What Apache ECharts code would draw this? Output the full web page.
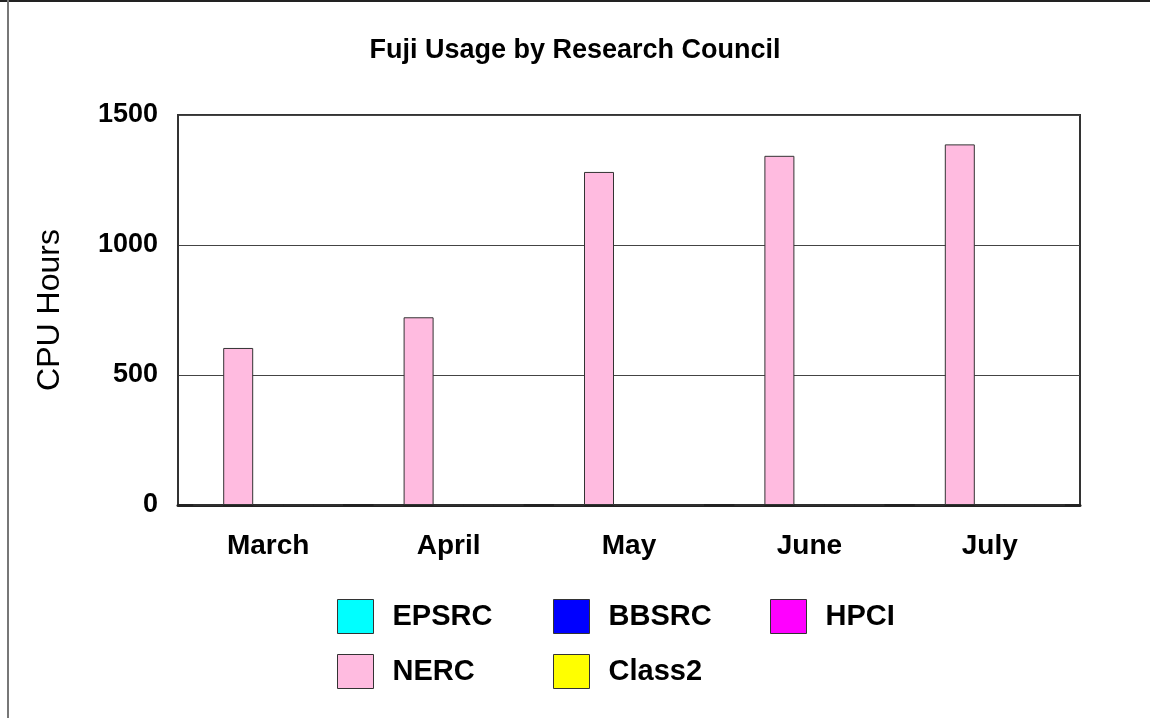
<!DOCTYPE html>
<html>
<head>
<meta charset="utf-8">
<title>Fuji Usage by Research Council</title>
<script src="https://cdn.jsdelivr.net/npm/echarts@6/dist/echarts.min.js"></script>
<style>
	html, body { margin: 0; padding: 0; background: #fff; }
	#fujiUsage { width: 1150px; height: 718px; }
</style>
</head>
<body>
<div id="fujiUsage"></div>
<script>
// data
var months = ['March', 'April', 'May', 'June', 'July'];
var seriesNames = ['EPSRC', 'NERC', 'BBSRC', 'Class2', 'HPCI'];
var epsrc = [0, 0, 0, 0, 0];
var nerc = [604, 722, 1281, 1343, 1387];
var bbsrc = [0, 0, 0, 0, 0];
var class2 = [0, 0, 0, 0, 0];
var hpci = [0, 0, 0, 0, 0];
var yTicks = [0, 500, 1000, 1500];

var colors = {
	EPSRC: '#00FFFF',
	NERC: '#FFBBE0',
	BBSRC: '#0000FF',
	Class2: '#FFFF00',
	HPCI: '#FF00FF'
};
var values = { EPSRC: epsrc, NERC: nerc, BBSRC: bbsrc, Class2: class2, HPCI: hpci };

function fujiUsage() {
	var myChart = echarts.init(document.getElementById('fujiUsage'));
	var font = 'Liberation Sans, Arial, sans-serif';

	// one legend per column, like the original layout
	function legendColumn(names, left) {
		return {
			data: names,
			orient: 'vertical',
			left: left,
			top: 594,
			icon: 'rect',
			itemWidth: 36,
			itemHeight: 34,
			itemGap: 20,
			selectedMode: false,
			itemStyle: { borderColor: '#333', borderWidth: 1 },
			textStyle: {
				fontFamily: font,
				fontSize: 29,
				fontWeight: 'bold',
				color: '#000',
				padding: [0, 0, 0, 14]
			}
		};
	}

	var option = {
		animation: false,
		backgroundColor: '#fff',
		title: {
			text: 'Fuji Usage by Research Council',
			left: 'center',
			top: 32,
			textStyle: {
				fontFamily: font,
				fontSize: 27,
				fontWeight: 'bold',
				color: '#000'
			}
		},
		legend: [
			legendColumn(['EPSRC', 'NERC'], 332),
			legendColumn(['BBSRC', 'Class2'], 548),
			legendColumn(['HPCI'], 765)
		],
		grid: {
			left: 178,
			top: 115,
			right: 70,
			bottom: 213,
			show: true,
			borderColor: '#333',
			borderWidth: 2
		},
		xAxis: {
			type: 'category',
			data: months,
			axisTick: { show: false },
			axisLine: { lineStyle: { color: '#222', width: 3 } },
			axisLabel: {
				margin: 27,
				fontFamily: font,
				fontSize: 28,
				fontWeight: 'bold',
				color: '#000'
			}
		},
		yAxis: {
			type: 'value',
			min: yTicks[0],
			max: yTicks[yTicks.length - 1],
			interval: 500,
			name: 'CPU Hours',
			nameLocation: 'middle',
			nameGap: 112,
			nameRotate: 90,
			nameTextStyle: {
				fontFamily: font,
				fontSize: 32,
				color: '#000'
			},
			axisLine: { show: true, lineStyle: { color: '#333', width: 2 } },
			axisTick: { show: false },
			axisLabel: {
				margin: 20,
				padding: [10, 0, 0, 0],
				fontFamily: font,
				fontSize: 27,
				fontWeight: 'bold',
				color: '#000',
				formatter: function (v) { return String(v); }
			},
			splitLine: { lineStyle: { color: '#444', width: 1 } }
		},
		series: seriesNames.map(function (name) {
			return {
				name: name,
				type: 'bar',
				data: values[name],
				barWidth: 30,
				barGap: '0%',
				itemStyle: {
					color: colors[name],
					borderColor: '#333',
					borderWidth: 1
				}
			};
		}),
		graphic: [
			{
				type: 'line',
				shape: { x1: 0, y1: 1, x2: 1150, y2: 1 },
				style: { stroke: '#222', lineWidth: 2 }
			},
			{
				type: 'line',
				shape: { x1: 8, y1: 0, x2: 8, y2: 718 },
				style: { stroke: '#777', lineWidth: 2 }
			}
		]
	};

	myChart.setOption(option);
}

fujiUsage();
</script>
</body>
</html>
